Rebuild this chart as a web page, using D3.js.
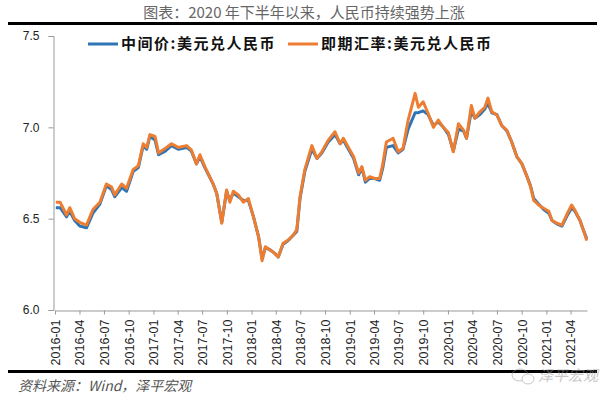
<!DOCTYPE html>
<html>
<head>
<meta charset="utf-8">
<script src="https://cdn.jsdelivr.net/npm/d3@7"></script>
<style>
  body { margin: 0; background: #fff; }
  svg { display: block; }
</style>
</head>
<body>
<div id="chart"></div>
<script>
const dates = [
  "2016-01-04","2016-01-20","2016-02-13","2016-02-25","2016-03-14","2016-04-02","2016-04-27","2016-05-21",
  "2016-06-16","2016-07-10","2016-07-29","2016-08-10","2016-09-05","2016-09-23","2016-10-18","2016-11-06",
  "2016-11-24","2016-12-07","2016-12-19","2017-01-07","2017-01-20","2017-02-14","2017-03-09","2017-04-03",
  "2017-05-04","2017-05-22","2017-06-10","2017-06-23","2017-07-11","2017-08-11","2017-08-24","2017-09-12",
  "2017-09-30","2017-10-12","2017-10-25","2017-11-13","2017-12-01","2017-12-20","2018-01-08","2018-01-27",
  "2018-02-09","2018-02-21","2018-03-10","2018-03-28","2018-04-10","2018-04-28","2018-05-17","2018-06-05",
  "2018-06-18","2018-06-30","2018-07-18","2018-08-13","2018-09-01","2018-09-19","2018-10-13","2018-11-07",
  "2018-11-26","2018-12-08","2018-12-27","2019-01-15","2019-02-03","2019-02-15","2019-02-28","2019-03-16",
  "2019-04-04","2019-04-22","2019-05-04","2019-05-17","2019-06-11","2019-06-30","2019-07-18","2019-08-06",
  "2019-09-01","2019-09-13","2019-10-01","2019-10-19","2019-11-08","2019-11-26","2019-12-15","2020-01-03",
  "2020-01-21","2020-02-09","2020-02-28","2020-03-10","2020-03-28","2020-04-10","2020-04-29","2020-05-17",
  "2020-05-29","2020-06-12","2020-07-01","2020-07-19","2020-08-07","2020-08-25","2020-09-13","2020-10-02",
  "2020-10-21","2020-11-03","2020-11-15","2020-12-03","2020-12-22","2021-01-10","2021-01-22","2021-02-10",
  "2021-02-28","2021-03-17","2021-04-05","2021-04-17","2021-05-06","2021-05-18","2021-05-31"
];

// 即期汇率
const spotRate = [
  6.59, 6.59, 6.52, 6.56, 6.50, 6.48, 6.465, 6.55,
  6.59, 6.69, 6.675, 6.63, 6.69, 6.666, 6.77, 6.79,
  6.91, 6.89, 6.96, 6.95, 6.86, 6.885, 6.91, 6.89,
  6.90, 6.876, 6.80, 6.85, 6.785, 6.69, 6.64, 6.475,
  6.657, 6.59, 6.65, 6.63, 6.59, 6.61, 6.51, 6.40,
  6.27, 6.346, 6.33, 6.31, 6.29, 6.365, 6.383, 6.41,
  6.44, 6.62, 6.77, 6.90, 6.83, 6.866, 6.93, 6.976,
  6.91, 6.94, 6.89, 6.84, 6.75, 6.785, 6.71, 6.73,
  6.72, 6.72, 6.80, 6.92, 6.94, 6.866, 6.885, 7.04,
  7.186, 7.11, 7.14, 7.077, 7.00, 7.04, 7.00, 6.97,
  6.866, 7.02, 6.985, 6.94, 7.12, 7.05, 7.085, 7.11,
  7.16, 7.085, 7.067, 7.01, 6.985, 6.92, 6.84, 6.80,
  6.73, 6.675, 6.60, 6.575, 6.557, 6.54, 6.49, 6.475,
  6.465, 6.52, 6.575, 6.547, 6.49, 6.44, 6.38
];

// 中间价
const midRate = [
  6.56, 6.56, 6.51, 6.54, 6.49, 6.46, 6.45, 6.53,
  6.58, 6.68, 6.66, 6.62, 6.67, 6.65, 6.76, 6.78,
  6.90, 6.88, 6.95, 6.93, 6.85, 6.87, 6.90, 6.88,
  6.89, 6.87, 6.80, 6.84, 6.78, 6.69, 6.64, 6.48,
  6.65, 6.60, 6.64, 6.62, 6.60, 6.60, 6.51, 6.40,
  6.28, 6.34, 6.33, 6.31, 6.29, 6.36, 6.38, 6.41,
  6.43, 6.61, 6.76, 6.88, 6.83, 6.86, 6.92, 6.96,
  6.91, 6.93, 6.88, 6.83, 6.74, 6.78, 6.70, 6.72,
  6.72, 6.71, 6.78, 6.89, 6.90, 6.86, 6.88, 6.99,
  7.08, 7.08, 7.09, 7.07, 7.01, 7.03, 7.00, 6.96,
  6.87, 6.99, 6.98, 6.94, 7.09, 7.05, 7.07, 7.10,
  7.13, 7.08, 7.07, 7.01, 6.98, 6.92, 6.84, 6.80,
  6.73, 6.68, 6.61, 6.58, 6.55, 6.53, 6.49, 6.47,
  6.46, 6.51, 6.56, 6.54, 6.49, 6.44, 6.39
];

const tickLabels = [
  "2016-01","2016-04","2016-07","2016-10","2017-01","2017-04","2017-07","2017-10",
  "2018-01","2018-04","2018-07","2018-10","2019-01","2019-04","2019-07","2019-10",
  "2020-01","2020-04","2020-07","2020-10","2021-01","2021-04"
];
const yTicks = [6.0, 6.5, 7.0, 7.5];

const seriesNames = ["中间价:美元兑人民币", "即期汇率:美元兑人民币"];
const seriesColors = ["#2e75b6", "#ed7d31"];

const drawChart = () => {
  const width = 608;
  const height = 400;
  const cjk = "'Noto Sans CJK SC', 'Noto Sans', sans-serif";
  const latin = "'Liberation Sans', Arial, sans-serif";

  const parse = d3.timeParse("%Y-%m-%d");
  const parseMonth = d3.timeParse("%Y-%m");

  const svg = d3.select("#chart")
    .append("svg")
    .attr("width", width)
    .attr("height", height);

  const x = d3.scaleTime()
    .domain([new Date(2016, 0, 1), new Date(2021, 5, 1)])
    .range([55, 587]);

  const y = d3.scaleLinear()
    .domain([6.0, 7.5])
    .range([310, 36]);

  // title
  svg.append("text")
    .attr("x", width / 2)
    .attr("y", 18)
    .attr("text-anchor", "middle")
    .style("font-family", cjk)
    .style("font-size", "15px")
    .style("fill", "#666")
    .text("图表：2020 年下半年以来，人民币持续强势上涨");

  // header / footer rules
  svg.append("line")
    .attr("x1", 8).attr("x2", 597)
    .attr("y1", 23.5).attr("y2", 23.5)
    .style("stroke", "#000").style("stroke-width", 3);

  svg.append("line")
    .attr("x1", 8).attr("x2", 597)
    .attr("y1", 371.5).attr("y2", 371.5)
    .style("stroke", "#000").style("stroke-width", 3);

  // y axis
  const yAxis = svg.append("g")
    .attr("transform", "translate(53.5,0)")
    .call(d3.axisLeft(y).tickValues(yTicks).tickFormat(d3.format(".1f")).tickSize(5).tickPadding(9));
  yAxis.select(".domain").style("stroke", "#999");
  yAxis.selectAll(".tick line").style("stroke", "#999");
  yAxis.selectAll("text")
    .style("font-family", latin)
    .style("font-size", "12px")
    .style("fill", "#222");

  // x axis
  const xAxis = svg.append("g")
    .attr("transform", "translate(0,310.5)")
    .call(d3.axisBottom(x)
      .tickValues(tickLabels.map(parseMonth))
      .tickFormat(d3.timeFormat("%Y-%m"))
      .tickSizeInner(4)
      .tickSizeOuter(0));
  xAxis.select(".domain").style("stroke", "#999");
  xAxis.selectAll(".tick line").style("stroke", "#999");
  xAxis.selectAll("text")
    .attr("transform", "rotate(-90)")
    .attr("text-anchor", "end")
    .attr("x", -9)
    .attr("y", 0)
    .attr("dy", "0.35em")
    .style("font-family", latin)
    .style("font-size", "12.5px")
    .style("fill", "#222");

  // lines
  const points = dates.map((d, i) => ({ date: parse(d), mid: midRate[i], spot: spotRate[i] }));

  const lineMid = d3.line().x(d => x(d.date)).y(d => y(d.mid));
  const lineSpot = d3.line().x(d => x(d.date)).y(d => y(d.spot));

  svg.append("path")
    .datum(points)
    .attr("d", lineMid)
    .style("fill", "none")
    .style("stroke", seriesColors[0])
    .style("stroke-width", 3)
    .style("stroke-linejoin", "round");

  svg.append("path")
    .datum(points)
    .attr("d", lineSpot)
    .style("fill", "none")
    .style("stroke", seriesColors[1])
    .style("stroke-width", 3)
    .style("stroke-linejoin", "round");

  // legend
  const legendX = [88, 288];
  const legend = svg.append("g")
    .selectAll("g")
    .data(seriesNames)
    .join("g")
    .attr("transform", (d, i) => `translate(${legendX[i]},44)`);

  legend.append("line")
    .attr("x1", 0).attr("x2", 30)
    .style("stroke", (d, i) => seriesColors[i])
    .style("stroke-width", 3);

  legend.append("text")
    .attr("x", 33)
    .attr("dy", "0.35em")
    .style("font-family", cjk)
    .style("font-size", "15px")
    .style("letter-spacing", "1.5px")
    .style("font-weight", "bold")
    .style("fill", "#111")
    .text(d => d);

  // source
  svg.append("text")
    .attr("x", 18)
    .attr("y", 391)
    .style("font-family", cjk)
    .style("font-size", "14px")
    .style("font-style", "italic")
    .style("fill", "#555")
    .text("资料来源：Wind，泽平宏观");

  // watermark
  const wm = svg.append("g").attr("transform", "translate(520,375)").style("opacity", 0.55);
  wm.append("ellipse").attr("cx", 0).attr("cy", 0).attr("rx", 8).attr("ry", 6)
    .style("fill", "none").style("stroke", "#999").style("stroke-width", 1);
  wm.append("ellipse").attr("cx", 8).attr("cy", 4).attr("rx", 6).attr("ry", 5)
    .style("fill", "#fff").style("stroke", "#999").style("stroke-width", 1);
  wm.append("text")
    .attr("x", 18)
    .attr("y", 6)
    .style("font-family", cjk)
    .style("font-size", "15px")
    .style("font-style", "italic")
    .style("fill", "#999")
    .text("泽平宏观");
};

document.addEventListener("DOMContentLoaded", drawChart);
</script>
</body>
</html>
